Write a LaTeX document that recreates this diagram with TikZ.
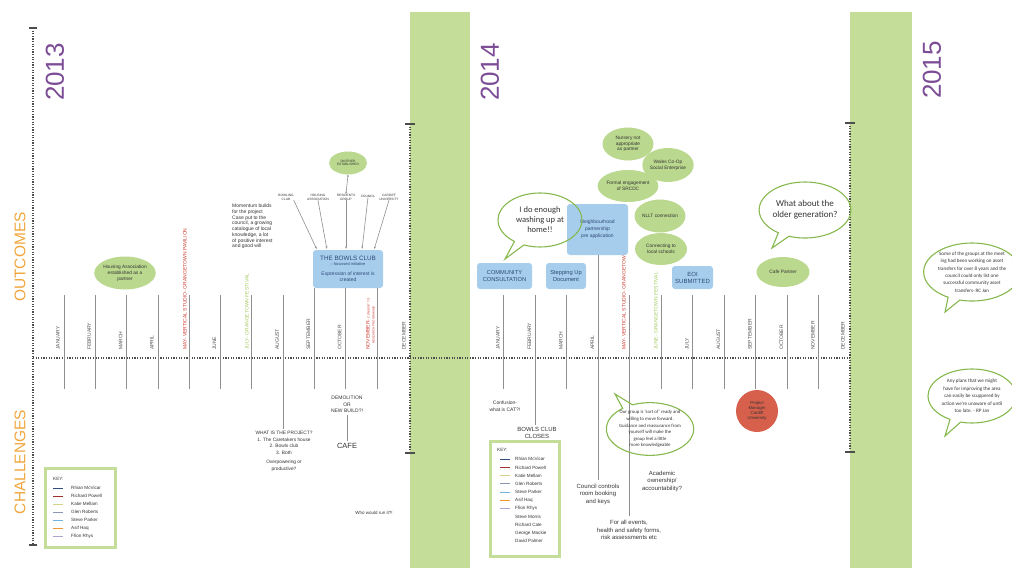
\documentclass[tikz,border=0pt]{standalone}
\usepackage{fontspec}
\setmainfont{Liberation Sans}
\newfontfamily\bubblefont{Carlito}
\usetikzlibrary{arrows.meta,shapes.geometric,shapes.callouts}
\newcommand{\fsz}[2]{\fontsize{#1}{#2}\selectfont}
\definecolor{barfill}{HTML}{C4DE9A}
\definecolor{blobgreen}{HTML}{BAD88E}
\definecolor{bubblegreen}{HTML}{86B84E}
\definecolor{boxblue}{HTML}{A7CDED}
\definecolor{boxtext}{HTML}{2B4A73}
\definecolor{yearpurple}{HTML}{7C4D96}
\definecolor{sideorange}{HTML}{F0A63C}
\definecolor{dotgray}{HTML}{4D4D4D}
\definecolor{tickgray}{HTML}{8F8F8F}
\definecolor{monthgray}{HTML}{505050}
\definecolor{inkgray}{HTML}{333333}
\definecolor{mayred}{HTML}{CC3B30}
\definecolor{julygreen}{HTML}{A3C95E}
\definecolor{pmred}{HTML}{D6604B}
\definecolor{keyrhian}{HTML}{2E4E7E}
\definecolor{keyrichard}{HTML}{A0302A}
\definecolor{keykatie}{HTML}{D6D28A}
\definecolor{keyglen}{HTML}{8B95B5}
\definecolor{keysteve}{HTML}{6EB4DE}
\definecolor{keyasif}{HTML}{F0962E}
\definecolor{keyffion}{HTML}{A9A6D6}

\begin{document}
\begin{tikzpicture}[
  x=1pt,
  y=-1pt,
  every node/.style={inner sep=0pt, text=inkgray},
  monthline/.style={draw=tickgray, line width=0.8pt},
  month/.style={rotate=90, anchor=west, font=\fsz{5}{6}, text=monthgray},
  timeline/.style={draw=dotgray, line width=1.2pt, dash pattern=on 1.2pt off 1.4pt},
  endtick/.style={draw=dotgray, line width=1.2pt},
  bluebox/.style={fill=boxblue, rounded corners=3pt, align=center, text=boxtext},
  blob/.style={ellipse, fill=blobgreen, align=center, font=\fsz{4.8}{5.8}},
  bubble/.style={ellipse callout, draw=bubblegreen, line width=1.1pt, align=center},
  note/.style={align=center, font=\fsz{6}{7.5}},
  smallnote/.style={align=center, font=\fsz{4.8}{6.5}},
  stakeholder/.style={align=center, font=\fsz{3.2}{3.8}},
  keytext/.style={anchor=west, font=\fsz{4.6}{5}},
  keyframe/.style={draw=barfill, line width=3pt},
  sideword/.style={rotate=90, text=sideorange, font=\fsz{15.5}{16}},
  year/.style={rotate=90, text=yearpurple, font=\fsz{26}{26}},
  feed/.style={draw=tickgray, line width=0.6pt, -{Stealth[length=2.5pt,width=2pt]}, shorten >=1pt},
  twoway/.style={draw=tickgray, line width=0.6pt, {Stealth[length=2pt,width=2pt]}-{Stealth[length=2pt,width=2pt]}}
]
  \useasboundingbox (0,0) rectangle (1012,568);

  % ---- year bands ------------------------------------------------------
  \fill[barfill] (410,12) rectangle (470,568);
  \fill[barfill] (850,12) rectangle (912,568);

  % ---- dotted time axes ------------------------------------------------
  \draw[timeline] (33,28) -- (33,545);
  \draw[endtick] (29,28) -- (37,28);
  \draw[endtick] (29,545) -- (37,545);
  \draw[timeline] (410,124) -- (410,453);
  \draw[endtick] (405,124) -- (415,124);
  \draw[endtick] (405,453) -- (415,453);
  \draw[timeline] (850,123) -- (850,452);
  \draw[endtick] (845,123) -- (855,123);
  \draw[endtick] (845,452) -- (855,452);
  \draw[timeline] (33,358) -- (850,358);

  % ---- side words and years --------------------------------------------
  \node[sideword] (outcomes) at (20,257) {OUTCOMES};
  \node[sideword] (challenges) at (20,462) {CHALLENGES};
  \node[year] (y2013) at (55,72) {2013};
  \node[year] (y2014) at (490,72) {2014};
  \node[year] (y2015) at (932,70) {2015};

  % ---- 2013 months -----------------------------------------------------
  \foreach \i in {1,...,11} {
    \coordinate (p\i) at ({64+31.3*(\i-1)},295);
    \coordinate (q\i) at ({64+31.3*(\i-1)},389);
  }
  \foreach \i in {1,...,8} \draw[monthline] (p\i) -- (q\i);
  \foreach \m/\xx in {JANUARY/58, FEBRUARY/89.3, MARCH/120.6, APRIL/151.9,
                      JUNE/214.5, AUGUST/277.1, SEPTEMBER/308.4,
                      OCTOBER/339.7, DECEMBER/404}
    \node[month] (m13\m) at (\xx,350) {\m};
  \node[month, text=mayred] (may13) at (185,350)
    {MAY- VERTICAL STUDIO- GRANGETOWN PAVILION};
  \node[month, text=julygreen] (jul13) at (247,350) {JULY- GRANGETOWN FESTIVAL};
  \node[month, text=mayred] (nov13) at (368,350) {NOVEMBER- \fsz{3}{3}CONSENT TO};
  \node[month, text=mayred, font=\fsz{3}{3}] (nov13b) at (373.5,344)
    {RESEARCH PROGRAMME};

  % ---- 2013 outcomes ---------------------------------------------------
  \node[blob, minimum width=51, minimum height=33] (housing13) at (125,273)
    {Housing Association\\established as a\\partner};
  \node[align=left, anchor=north west, font=\fsz{5}{5.7}] (momentum) at (232,204)
    {Momentum builds\\for the project\\Case put to the\\council, a growing\\
     catalogue of local\\knowledge, a lot\\ of positive interest\\and good will};
  \node[blob, minimum width=38, minimum height=23, font=\fsz{3.2}{3.8}] (partner)
    at (348,163) {PARTNER\\ESTABLISHED};
  \node[stakeholder] (bowling) at (286,197) {BOWLING\\CLUB};
  \node[stakeholder] (housing) at (318,197) {HOUSING\\ASSOCIATION};
  \node[stakeholder] (residents) at (346,197) {RESIDENTS\\GROUP};
  \node[stakeholder] (council) at (368,196) {COUNCIL};
  \node[stakeholder] (cardiff) at (389,197) {CARDIFF\\UNIVERSITY};
  \node[bluebox, minimum width=70, minimum height=38, font=\fsz{5}{6.5}] (bowls)
    at (348,269)
    {\fsz{6.3}{7}THE BOWLS CLUB\\[-1pt]\fsz{4}{5}-- focussed initiative\\[3pt]
     \fsz{5}{6.5}Expression of interest is\\\fsz{5}{6.5}created};
  \draw[twoway] (partner.south) -- (residents.north);
  \draw[feed] (bowling.south east) -- ([xshift=-31pt]bowls.north);
  \draw[feed] (housing.south) -- ([xshift=-21pt]bowls.north);
  \draw[feed] (residents.south) -- ([xshift=-2pt]bowls.north);
  \draw[feed] (council.south) -- ([xshift=14pt]bowls.north);
  \draw[feed] (cardiff.south) -- ([xshift=26pt]bowls.north);
  \foreach \i in {9,10,11} \draw[monthline] (bowls.south -| p\i) -- (q\i);

  % ---- 2013 challenges -------------------------------------------------
  \node[smallnote, anchor=north] (project) at (284,431)
    {WHAT IS THE PROJECT?\\1. The Caretakers house\\2. Bowls club\\3. Both\\[3pt]
     Overpowering or\\productive?};
  \draw[monthline] (q8) -- ([yshift=2pt]q8 |- project.north);
  \node[smallnote, anchor=north, font=\fsz{5}{6.5}] (demolition) at (347,396)
    {DEMOLITION\\OR\\NEW BUILD?!};
  \node[font=\fsz{7.5}{8}] (cafe) at (347,446) {CAFE};
  \draw[monthline] ([yshift=-2pt]demolition.south) -- ([yshift=2pt]cafe.north);
  \node[font=\fsz{4.5}{5}] (whorun) at (374,513) {Who would run it?!};

  % ---- key 2013 --------------------------------------------------------
  \draw[keyframe] (45,468) rectangle (115,547);
  \node[keytext] (keyA) at (53,479) {KEY:};
  \foreach \who/\col [count=\k] in {Rhian McVicar/keyrhian, Richard Powell/keyrichard,
      Katie Mellam/keykatie, Glen Roberts/keyglen, Steve Parker/keysteve,
      Asif Haq/keyasif, Ffion Rhys/keyffion} {
    \draw[draw=\col, line width=0.8pt] (53,{480+8*\k}) -- (63,{480+8*\k});
    \node[keytext] (keyA\k) at (71,{480+8*\k}) {\who};
  }

  % ---- 2014 months -----------------------------------------------------
  \foreach \i in {1,...,11} {
    \coordinate (r\i) at ({503.5+31.5*(\i-1)},295);
    \coordinate (s\i) at ({503.5+31.5*(\i-1)},389);
  }
  \foreach \i in {1,3,6,7,8,9,10,11} \draw[monthline] (r\i) -- (s\i);
  \foreach \m/\xx in {JANUARY/498, FEBRUARY/529.5, MARCH/561, APRIL/592.5,
                      JULY/687, AUGUST/718.5, SEPTEMBER/750, OCTOBER/781.5,
                      NOVEMBER/813, DECEMBER/843}
    \node[month] (m14\m) at (\xx,350) {\m};
  \node[month, text=mayred] (may14) at (624,350)
    {MAY- VERTICAL STUDIO- GRANGETOWN PAVILION};
  \node[month, text=julygreen] (jun14) at (656,350) {JUNE- GRANGETOWN FESTIVAL};

  % ---- 2014 outcomes ---------------------------------------------------
  \node[bluebox, minimum width=55, minimum height=26, font=\fsz{5.7}{7}] (consult)
    at (504.5,276) {COMMUNITY\\CONSULTATION};
  \node[bluebox, minimum width=40, minimum height=26, font=\fsz{5.7}{7}] (stepping)
    at (566,276) {Stepping Up\\Document};
  \node[bluebox, minimum width=61, minimum height=51, font=\fsz{5}{7}] (nbh)
    at (597.5,229.5) {Neighbourhood\\partnership\\pre application};
  \node[bluebox, minimum width=41, minimum height=23, font=\fsz{6}{7}] (eoi)
    at (692.5,277.5) {EOI\\SUBMITTED};
  \node[blob, minimum width=51, minimum height=33] (nursery) at (628,144)
    {Nursery not\\appropriate\\as partner};
  \node[blob, minimum width=51, minimum height=34] (walescoop) at (668,165)
    {Wales Co-Op\\Social Enterprise};
  \node[blob, minimum width=52, minimum height=32] (srcdc) at (628,186)
    {Formal engagement\\of SRCDC};
  \node[blob, minimum width=51, minimum height=33] (nllt) at (660,216)
    {NLLT connection};
  \node[blob, minimum width=52, minimum height=32] (schools) at (661,249)
    {Connecting to\\local schools};
  \node[blob, minimum width=53, minimum height=30] (cafepartner) at (783,272)
    {Cafe Partner};
  \node[bubble, minimum width=84, minimum height=54, font=\bubblefont\fsz{8.5}{10},
        callout absolute pointer={(505,259)}] (washing) at (540,220)
    {I do enough\\washing up at\\home!!};
  \node[bubble, minimum width=86, minimum height=56, font=\bubblefont\fsz{9}{11},
        callout absolute pointer={(772,248)}] (older) at (805,210)
    {What about the\\older generation?};

  % ---- 2014 challenges -------------------------------------------------
  \node[align=center, font=\fsz{5}{7.5}] (cat) at (505,406) {Confusion-\\what is CAT?!};
  \node[note] (closes) at (537,433) {BOWLS CLUB\\CLOSES};
  \draw[monthline] (r2) -- ([yshift=2pt]r2 |- closes.north);
  \node[note] (keys) at (598,494) {Council controls\\room booking\\and keys};
  \draw[monthline] (nbh.south -| r4) -- ([yshift=4pt]r4 |- keys.north);
  \node[note] (academic) at (662,481) {Academic\\ownership/\\accountability?};
  \node[note] (events) at (629,530)
    {For all events,\\health and safety forms,\\risk assessments etc};
  \draw[monthline] (r5) -- ([yshift=4pt]r5 |- events.north);
  \node[bubble, minimum width=86, minimum height=52, font=\bubblefont\fsz{4.8}{6.6},
        callout absolute pointer={(615,394)}] (ourgroup) at (650,429)
    {Our group is ‘sort of’ ready and\\willing to move forward.\\
     Guidance and reassurance from\\yourself will make the\\group feel a little\\
     more knowledgeable};
  \node[circle, fill=pmred, minimum size=42, align=center, font=\fsz{4.3}{5.2}]
    (manager) at (757,411) {Project\\Manager\\Cardiff\\University};

  % ---- key 2014 --------------------------------------------------------
  \draw[keyframe] (490,441) rectangle (559,556);
  \node[keytext] (keyB) at (497,450) {KEY:};
  \foreach \who/\col [count=\k] in {Rhian McVicar/keyrhian, Richard Powell/keyrichard,
      Katie Mellam/keykatie, Glen Roberts/keyglen, Steve Parker/keysteve,
      Asif Haq/keyasif, Ffion Rhys/keyffion, Steve Morris/none,
      Richard Cale/none, George Mackie/none, David Palmer/none} {
    \draw[draw=\col, line width=0.8pt] (500,{451+8.2*\k}) -- (510,{451+8.2*\k});
    \node[keytext] (keyB\k) at (515,{451+8.2*\k}) {\who};
  }

  % ---- 2015 quotes -----------------------------------------------------
  \node[bubble, minimum width=88, minimum height=58, font=\bubblefont\fsz{5.1}{7.4},
        callout absolute pointer={(945,312)}] (assetquote) at (972,272)
    {Some of the groups at the meet\\ing had been working on asset\\
     transfers for over 8 years and the\\council could only list one\\
     successful community asset\\transfers- RC Jan};
  \node[bubble, minimum width=88, minimum height=54, font=\bubblefont\fsz{5.1}{7.4},
        callout absolute pointer={(945,436)}] (plansquote) at (972,396)
    {Any plans that we might\\have for improving the area\\
     can easily be scuppered by\\action we're unaware of until\\too late. - RP Jan};
\end{tikzpicture}
\end{document}
